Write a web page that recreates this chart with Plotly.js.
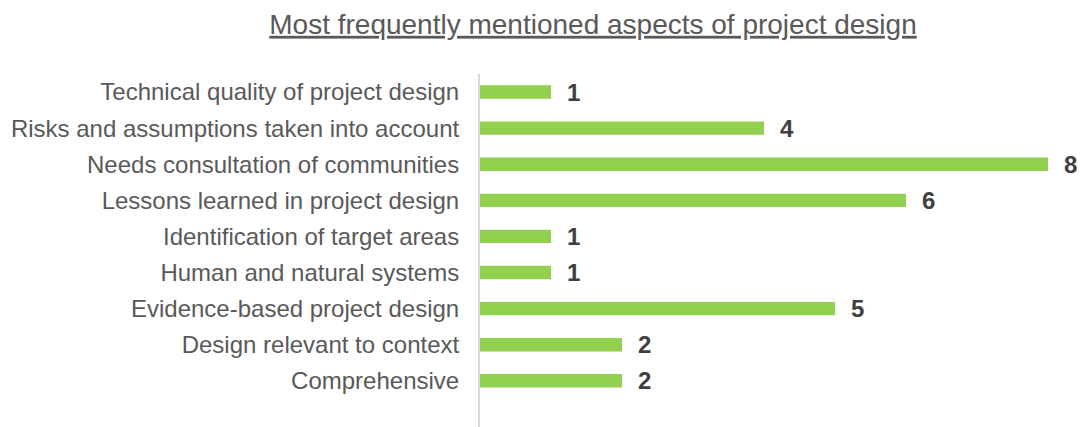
<!DOCTYPE html>
<html>
<head>
<meta charset="utf-8">
<script src="https://cdn.plot.ly/plotly-3.0.1.min.js"></script>
<style>
  html, body { margin: 0; padding: 0; background: #fff; }
  #chart { width: 1080px; height: 427px; }
</style>
</head>
<body>
<div id="chart"></div>
<script>
// listed bottom to top, as plotly draws horizontal bars
var aspects = [
    "Comprehensive",
    "Design relevant to context",
    "Evidence-based project design",
    "Human and natural systems",
    "Identification of target areas",
    "Lessons learned in project design",
    "Needs consultation of communities",
    "Risks and assumptions taken into account",
    "Technical quality of project design"
];
var mentions = [2, 2, 5, 1, 1, 6, 8, 4, 1];

var value_labels = [];
for (let i = 0; i < aspects.length; i++) {
    value_labels.push({
        x: mentions[i],
        y: aspects[i],
        text: String(mentions[i]),
        xanchor: "left",
        yanchor: "middle",
        xshift: 14,
        showarrow: false,
        font: {family: "Liberation Sans, Arial, sans-serif", size: 24, color: "#404040", weight: "bold"}
    });
}

var data = [{
    type: "bar",
    orientation: "h",
    x: mentions,
    y: aspects,
    width: 0.37,
    marker: {color: "#92D050"},
    hoverinfo: "none"
}];

var layout = {
    width: 1080,
    height: 427,
    margin: {l: 480, r: 0, t: 74, b: 0},
    paper_bgcolor: "#ffffff",
    plot_bgcolor: "#ffffff",
    showlegend: false,
    font: {family: "Liberation Sans, Arial, sans-serif", color: "#595959"},
    title: {
        text: "<u>Most frequently mentioned aspects of project design</u>",
        font: {size: 28, color: "#595959"},
        x: 593 / 1080,
        xanchor: "center",
        xref: "container",
        y: 1 - 24 / 427,
        yanchor: "middle",
        yref: "container"
    },
    xaxis: {
        range: [0, 600 / 71],
        showgrid: false,
        zeroline: false,
        showticklabels: false,
        showline: false
    },
    yaxis: {
        type: "category",
        range: [-1.28, 8.5],
        showgrid: false,
        zeroline: false,
        showline: true,
        linecolor: "#d9d9d9",
        linewidth: 2,
        ticks: "",
        ticklabelstandoff: 14,
        tickfont: {size: 24, color: "#595959"}
    },
    annotations: value_labels
};

Plotly.newPlot("chart", data, layout, {staticPlot: true});
</script>
</body>
</html>
